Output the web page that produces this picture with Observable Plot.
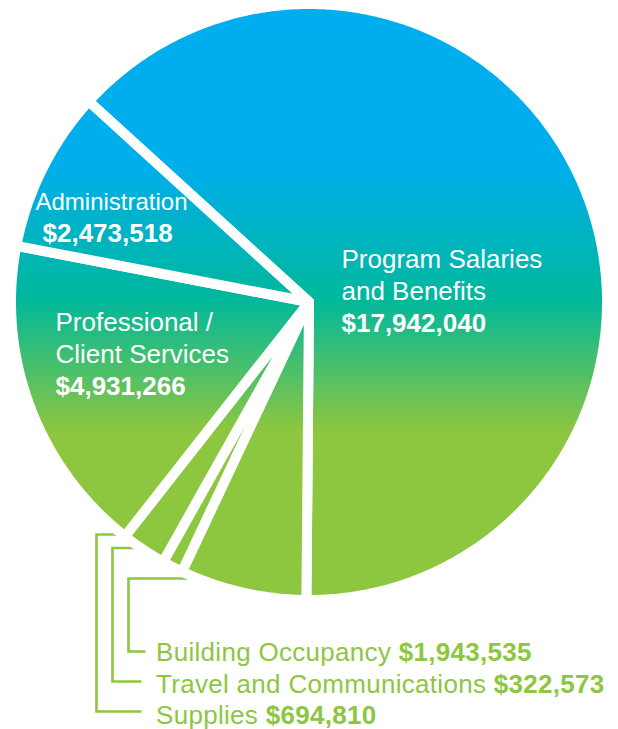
<!DOCTYPE html>
<html>
<head>
<meta charset="utf-8">
<script src="https://cdn.jsdelivr.net/npm/d3@7"></script>
<script src="https://cdn.jsdelivr.net/npm/@observablehq/plot@0.6"></script>
<style>
  html, body { margin: 0; padding: 0; background: #fff; }
  #chart svg { display: block; }
</style>
</head>
<body>
<div id="chart"></div>
<script>
// ---------- DATA ----------
const categories = [
  "Program Salaries and Benefits",
  "Building Occupancy",
  "Travel and Communications",
  "Supplies",
  "Professional / Client Services",
  "Administration"
];
const amounts = [17942040, 1943535, 322573, 694810, 4931266, 2473518];
// label lines drawn inside the pie
const insideLabelLines = {
  "Program Salaries and Benefits": ["Program Salaries", "and Benefits"],
  "Professional / Client Services": ["Professional /", "Client Services"],
  "Administration": ["Administration"]
};
// categories listed in the bottom legend, top to bottom
const legendOrder = ["Building Occupancy", "Travel and Communications", "Supplies"];

// ---------- LAYOUT ----------
const W = 618, H = 729;
const cx = 308.5, cy = 301.5;
const GAP = 10;                 // white separator width
const R = 293 + GAP / 2;        // outer radius incl. half stroke
const programEndDeg = 180.5;    // rotation: first slice ends near 6 o'clock
const GREEN = "#8DC63F";
const FONT = '"Liberation Sans", Arial, Helvetica, sans-serif';

const insideLayout = {
  "Program Salaries and Benefits": {x: 341, y: 267, nameSize: 26, valueDx: 0},
  "Professional / Client Services": {x: 55, y: 330, nameSize: 26, valueDx: 0},
  "Administration": {x: 35, y: 209.5, nameSize: 24, valueDx: 7}
};
const LINE_H = 32;
const VALUE_SIZE = 26;

const legendLayout = {
  textX: 155.5,
  baselines: [660, 692, 723],
  size: 26,
  letterSpacing: 0.3,
  // connector: vertical x, top y, top end x, elbow y, elbow end x
  connectors: [
    {vx: 128, ty: 578, tx: 211, ey: 651, ex: 145},
    {vx: 112, ty: 547.5, tx: 180, ey: 681, ex: 141},
    {vx: 96,  ty: 534, tx: 140, ey: 711, ex: 141}
  ]
};

// ---------- COMPUTE ----------
const fmt = d3.format("$,");
const total = d3.sum(amounts);
const table = categories.map((c, i) => ({category: c, amount: amounts[i]}));
const startAngle = programEndDeg * Math.PI / 180 - amounts[0] / total * 2 * Math.PI;
const arcs = d3.pie().sort(null).value(d => d.amount)
  .startAngle(startAngle).endAngle(startAngle + 2 * Math.PI)(table);

const slicePoints = arcs.flatMap(a => {
  const cat = a.data.category;
  const n = Math.max(2, Math.ceil((a.endAngle - a.startAngle) / (Math.PI / 360)));
  const pts = [{category: cat, x: cx, y: cy}];
  for (let k = 0; k <= n; k++) {
    const t = a.startAngle + (a.endAngle - a.startAngle) * k / n;
    pts.push({category: cat, x: cx + R * Math.sin(t), y: cy - R * Math.cos(t)});
  }
  pts.push({category: cat, x: cx, y: cy});
  return pts;
});

// inside labels
const insideRegular = [], insideBold = [];
for (const [cat, lines] of Object.entries(insideLabelLines)) {
  const L = insideLayout[cat];
  lines.forEach((t, i) => insideRegular.push({x: L.x, y: L.y + i * LINE_H, text: t, size: L.nameSize}));
  insideBold.push({x: L.x + L.valueDx, y: L.y + lines.length * LINE_H,
                   text: fmt(amounts[categories.indexOf(cat)])});
}

// legend texts with measured widths
const ctx = document.createElement("canvas").getContext("2d");
ctx.font = `400 ${legendLayout.size}px ${FONT}`;
const legendRegular = [], legendBold = [];
legendOrder.forEach((cat, i) => {
  const y = legendLayout.baselines[i];
  legendRegular.push({x: legendLayout.textX, y, text: cat});
  const s = cat + " ";
  const w = ctx.measureText(s).width + legendLayout.letterSpacing * s.length;
  legendBold.push({x: legendLayout.textX + w, y, text: fmt(amounts[categories.indexOf(cat)])});
});

const connectorPoints = legendLayout.connectors.flatMap((c, i) => [
  {id: i, x: c.tx, y: c.ty},
  {id: i, x: c.vx, y: c.ty},
  {id: i, x: c.vx, y: c.ey},
  {id: i, x: c.ex, y: c.ey}
]);

// gradient defs as a render-function mark
const gradStops = [
  [8, "#00AEEF"],
  [165, "#00AEEC"],
  [298, "#00B89C"],
  [430, "#8DC63F"],
  [600, "#8DC63F"]
];
function gradientDefs() {
  const y1 = cy - R, y2 = cy + R;
  const defs = d3.create("svg:defs");
  const lg = defs.append("linearGradient")
    .attr("id", "pieGrad").attr("gradientUnits", "userSpaceOnUse")
    .attr("x1", 0).attr("x2", 0).attr("y1", y1).attr("y2", y2);
  for (const [y, c] of gradStops) {
    lg.append("stop").attr("offset", Math.max(0, Math.min(1, (y - y1) / (y2 - y1)))).attr("stop-color", c);
  }
  return defs.node();
}

const chart = Plot.plot({
  width: W,
  height: H,
  margin: 0,
  x: {domain: [0, W], range: [0, W], axis: null},
  y: {domain: [0, H], range: [0, H], axis: null},
  style: {background: "#fff", fontFamily: FONT, overflow: "visible"},
  marks: [
    gradientDefs,
    Plot.line(connectorPoints, {x: "x", y: "y", z: "id", stroke: GREEN, strokeWidth: 2.6,
      strokeLinejoin: "miter", strokeLinecap: "butt", strokeMiterlimit: 4}),
    Plot.line(slicePoints, {x: "x", y: "y", z: "category", fill: "url(#pieGrad)",
      stroke: "white", strokeWidth: GAP, strokeLinejoin: "miter", strokeMiterlimit: 4,
      strokeLinecap: "round"}),
    Plot.text(insideRegular.filter(d => d.size === 26), {x: "x", y: "y", text: "text",
      textAnchor: "start", lineAnchor: "bottom", fill: "white", fontSize: 26}),
    Plot.text(insideRegular.filter(d => d.size === 24), {x: "x", y: "y", text: "text",
      textAnchor: "start", lineAnchor: "bottom", fill: "white", fontSize: 24}),
    Plot.text(insideBold, {x: "x", y: "y", text: "text",
      textAnchor: "start", lineAnchor: "bottom", fill: "white", fontSize: VALUE_SIZE, fontWeight: "bold"}),
    Plot.text(legendRegular, {x: "x", y: "y", text: "text",
      textAnchor: "start", lineAnchor: "bottom", fill: GREEN, fontSize: legendLayout.size}),
    Plot.text(legendBold, {x: "x", y: "y", text: "text",
      textAnchor: "start", lineAnchor: "bottom", fill: GREEN, fontSize: legendLayout.size, fontWeight: "bold"})
  ]
});
// letter spacing for the legend text groups (last two text marks)
const textGroups = chart.querySelectorAll('g[aria-label="text"]');
[...textGroups].slice(-2).forEach(g => g.setAttribute("letter-spacing", legendLayout.letterSpacing));
document.getElementById("chart").appendChild(chart);
</script>
</body>
</html>
